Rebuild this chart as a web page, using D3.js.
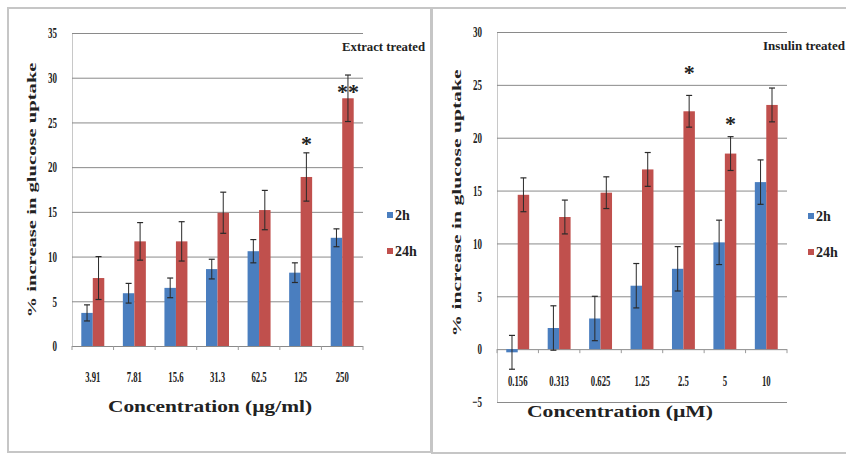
<!DOCTYPE html>
<html>
<head>
<meta charset="utf-8">
<script src="https://cdn.jsdelivr.net/npm/d3@7"></script>
<style>
  html, body { margin: 0; padding: 0; background: #ffffff; }
  svg { display: block; }
  svg text { font-family: "Liberation Serif", "DejaVu Serif", serif !important; font-weight: bold; fill: #222; }
</style>
</head>
<body>
<svg id="chart" width="846" height="456"></svg>
<script>
// ---------- data ----------
const seriesNames = ["2h", "24h"];
const seriesColors = ["#4a7ebf", "#c0504d"];

const leftCats = ["3.91", "7.81", "15.6", "31.3", "62.5", "125", "250"];
const left2h = [3.7, 5.9, 6.5, 8.6, 10.6, 8.2, 12.1];
const left2hErr = [0.9, 1.1, 1.1, 1.1, 1.3, 1.1, 1.0];
const left24h = [7.6, 11.7, 11.7, 14.9, 15.2, 18.9, 27.7];
const left24hErr = [2.4, 2.1, 2.2, 2.3, 2.2, 2.7, 2.6];
const leftTicks = [0, 5, 10, 15, 20, 25, 30, 35];
const leftStars = [{ cat: "125", y: 22.8, label: "*" }, { cat: "250", y: 28.6, label: "**" }];

const rightCats = ["0.156", "0.313", "0.625", "1.25", "2.5", "5", "10"];
const right2h = [-0.3, 2.0, 2.9, 6.0, 7.6, 10.1, 15.8];
const right2hErr = [1.6, 2.1, 2.1, 2.1, 2.1, 2.1, 2.1];
const right24h = [14.6, 12.5, 14.8, 17.0, 22.5, 18.5, 23.1];
const right24hErr = [1.6, 1.6, 1.5, 1.6, 1.5, 1.6, 1.6];
const rightTicks = [-5, 0, 5, 10, 15, 20, 25, 30];
const rightStars = [{ cat: "2.5", y: 26.3, label: "*" }, { cat: "5", y: 21.5, label: "*" }];

const yTitle = "% increase in glucose uptake";

// ---------- helpers ----------
const FONT = "Liberation Serif";
function condense(sel, factor) {
  sel.each(function () {
    const L = this.getComputedTextLength();
    this.setAttribute("textLength", L * factor);
    this.setAttribute("lengthAdjust", "spacingAndGlyphs");
  });
}
function fitLength(sel, len) {
  sel.attr("textLength", len).attr("lengthAdjust", "spacingAndGlyphs");
}

const svg = d3.select("#chart");

// panel frames
svg.append("rect").attr("x", 8).attr("y", 8).attr("width", 423).attr("height", 444)
  .attr("fill", "none").attr("stroke", "#c6c6c6").attr("stroke-width", 2);
svg.append("rect").attr("x", 432).attr("y", 8).attr("width", 420).attr("height", 445)
  .attr("fill", "none").attr("stroke", "#c6c6c6").attr("stroke-width", 2);

function drawPanel(p) {
  const g = svg.append("g").attr("font-family", FONT).attr("font-weight", "bold");
  const x = d3.scaleBand().domain(p.cats).range([p.x0, p.x1]).paddingInner(0.447).paddingOuter(0.2235);
  const xs = d3.scaleBand().domain(seriesNames).range([0, x.bandwidth()]).padding(0);
  const y = d3.scaleLinear().domain([p.ticks[0], p.ticks[p.ticks.length - 1]]).range([p.yBottom, p.yTop]);

  // gridlines + y labels
  const yAxis = d3.axisLeft(y).tickValues(p.ticks).tickSize(-(p.x1 - p.x0)).tickSizeOuter(0).tickPadding(p.tickPad);
  const ya = g.append("g").attr("transform", `translate(${p.x0},0)`).call(yAxis)
    .attr("font-family", FONT).attr("font-size", 15);
  ya.select(".domain").attr("stroke", "#c8c8c8");
  ya.selectAll(".tick line").attr("stroke", "#8a8a8a").attr("stroke-width", 1);
  ya.selectAll(".tick text").attr("font-size", 15).attr("font-family", FONT).attr("fill", "#222");
  condense(ya.selectAll(".tick text"), 0.6);

  // category separators on zero line
  const step = x.step();
  const sepX = d3.range(p.cats.length + 1).map(i => p.x0 + i * step);
  g.selectAll(".sep").data(sepX).join("line")
    .attr("x1", d => d).attr("x2", d => d)
    .attr("y1", y(0)).attr("y2", y(0) + 4)
    .attr("stroke", "#9a9a9a");

  // bars
  const data = p.cats.map((c, i) => seriesNames.map((s, k) => ({
    cat: c, s, k, v: p.vals[k][i], e: p.errs[k][i]
  }))).flat();

  g.selectAll(".bar").data(data).join("rect")
    .attr("x", d => x(d.cat) + xs(d.s))
    .attr("width", xs.bandwidth())
    .attr("y", d => Math.min(y(d.v), y(0)))
    .attr("height", d => Math.abs(y(d.v) - y(0)))
    .attr("fill", d => seriesColors[d.k]);

  // error bars
  const eb = g.selectAll(".err").data(data).join("g");
  eb.append("line")
    .attr("x1", d => x(d.cat) + xs(d.s) + xs.bandwidth() / 2)
    .attr("x2", d => x(d.cat) + xs(d.s) + xs.bandwidth() / 2)
    .attr("y1", d => y(d.v - d.e)).attr("y2", d => y(d.v + d.e))
    .attr("stroke", "#2a2a2a").attr("stroke-width", 1);
  [1, -1].forEach(sign => {
    eb.append("line")
      .attr("x1", d => x(d.cat) + xs(d.s) + xs.bandwidth() / 2 - 3)
      .attr("x2", d => x(d.cat) + xs(d.s) + xs.bandwidth() / 2 + 3)
      .attr("y1", d => y(d.v + sign * d.e)).attr("y2", d => y(d.v + sign * d.e))
      .attr("stroke", "#2a2a2a").attr("stroke-width", 1.2);
  });

  // stars (over the 24h bar)
  g.selectAll(".star").data(p.stars).join("text")
    .attr("x", d => x(d.cat) + xs("24h") + xs.bandwidth() / 2)
    .attr("y", d => y(d.y) + 9)
    .attr("text-anchor", "middle")
    .attr("font-size", 22)
    .text(d => d.label);

  // category labels
  const xAxis = d3.axisBottom(x).tickSize(0).tickPadding(0);
  const xa = g.append("g").attr("transform", `translate(0,${y(0) + p.catOffset})`).call(xAxis)
    .attr("font-family", FONT).attr("font-size", 15);
  xa.select(".domain").remove();
  xa.selectAll(".tick text").attr("font-size", 15).attr("font-family", FONT).attr("fill", "#222").attr("dy", "0.35em");
  condense(xa.selectAll(".tick text"), 0.58);

  // axis titles
  g.append("text").attr("x", p.xTitleX).attr("y", p.xTitleY).attr("text-anchor", "middle")
    .attr("font-size", 17).text(p.xTitle).call(fitLength, p.xTitleLen);
  g.append("text").attr("transform", `translate(${p.yTitleX},${p.yTitleY}) rotate(-90)`)
    .attr("text-anchor", "middle").attr("font-size", 12).text(yTitle).call(fitLength, p.yTitleLen);

  // panel title
  g.append("text").attr("x", p.titleX).attr("y", p.titleY).attr("font-size", 13)
    .text(p.title).call(fitLength, p.titleLen);

  // legend
  const lg = g.selectAll(".leg").data(seriesNames).join("g")
    .attr("transform", (d, i) => `translate(${p.legX},${p.legY + i * 36})`);
  lg.append("rect").attr("x", 0).attr("y", -3).attr("width", 6).attr("height", 6)
    .attr("fill", (d, i) => seriesColors[i]);
  lg.append("text").attr("x", 8).attr("y", 5).attr("font-size", 14).text(d => d);
}

drawPanel({
  cats: leftCats, vals: [left2h, left24h], errs: [left2hErr, left24hErr], ticks: leftTicks, stars: leftStars,
  x0: 72, x1: 363, yBottom: 346, yTop: 33, tickPad: 15, catOffset: 31,
  xTitle: "Concentration (\u00b5g/ml)", xTitleX: 210, xTitleY: 412, xTitleLen: 204,
  yTitleX: 36, yTitleY: 190, yTitleLen: 255,
  title: "Extract treated", titleX: 342, titleY: 51, titleLen: 83,
  legX: 387, legY: 215
});

drawPanel({
  cats: rightCats, vals: [right2h, right24h], errs: [right2hErr, right24hErr], ticks: rightTicks, stars: rightStars,
  x0: 497, x1: 787, yBottom: 402, yTop: 32, tickPad: 15, catOffset: 32,
  xTitle: "Concentration (\u00b5M)", xTitleX: 620, xTitleY: 417, xTitleLen: 186,
  yTitleX: 461, yTitleY: 203, yTitleLen: 267,
  title: "Insulin treated", titleX: 763, titleY: 50, titleLen: 82,
  legX: 808, legY: 216
});
</script>
</body>
</html>
